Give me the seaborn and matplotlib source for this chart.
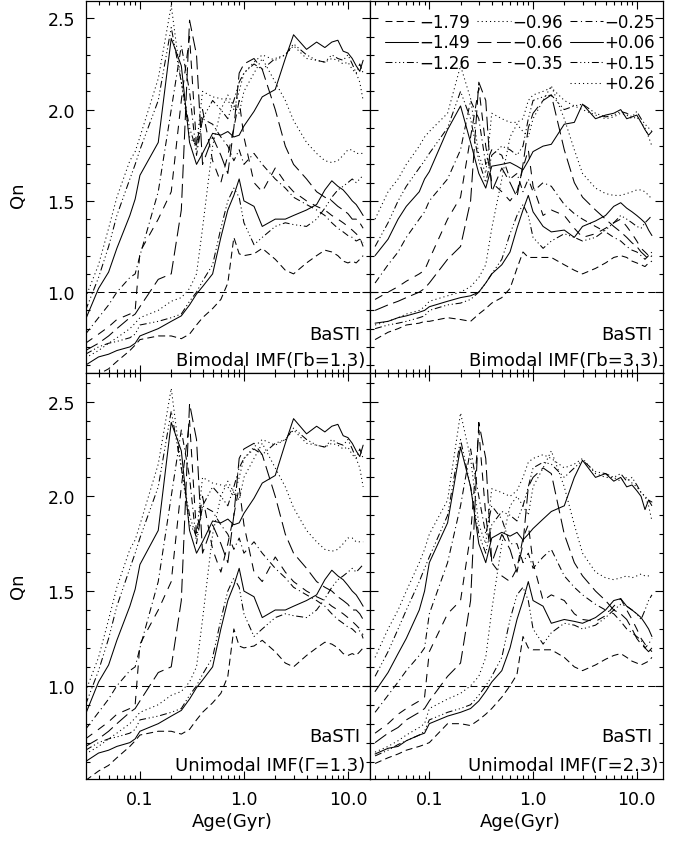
import matplotlib
matplotlib.use("Agg")
import pandas as pd
import matplotlib.pyplot as plt
import seaborn as sns
from matplotlib.lines import Line2D
from matplotlib.ticker import MultipleLocator, LogLocator, FixedLocator, FixedFormatter, NullFormatter

# ── Data ──────────────────────────────────────────────────
ages = [0.03, 0.04, 0.05, 0.06, 0.08, 0.09, 0.1, 0.15, 0.2, 0.25, 0.3, 0.35, 0.4, 0.5,
        0.6, 0.7, 0.8, 0.9, 1.0, 1.25, 1.5, 2.0, 2.5, 3.0, 4.0, 5.0, 6.0, 7.0, 8.0, 9.0,
        10.0, 11.0, 12.0, 13.0, 14.0]

feh_labels = ["−1.79", "−1.49", "−1.26", "−0.96", "−0.66",
              "−0.35", "−0.25", "+0.06", "+0.15", "+0.26"]

# Bimodal IMF (Gamma_b = 1.3) -- the unimodal Gamma = 1.3 panel is the same
bi13_m179 = [0.50, 0.55, 0.58, 0.62, 0.68, 0.71, 0.74, 0.76, 0.76, 0.745, 0.77, 0.82, 0.86, 0.91, 0.96, 1.05, 1.30, 1.21, 1.20, 1.21, 1.24, 1.18, 1.12, 1.10, 1.16, 1.20, 1.23, 1.22, 1.20, 1.17, 1.16, 1.17, 1.16, 1.18, 1.20]
bi13_m149 = [0.60, 0.645, 0.66, 0.68, 0.70, 0.72, 0.76, 0.80, 0.84, 0.87, 0.93, 0.99, 1.03, 1.10, 1.30, 1.45, 1.53, 1.62, 1.50, 1.47, 1.36, 1.40, 1.40, 1.42, 1.45, 1.48, 1.56, 1.61, 1.58, 1.56, 1.53, 1.50, 1.48, 1.45, 1.42]
bi13_m126 = [0.66, 0.70, 0.72, 0.73, 0.75, 0.77, 0.82, 0.84, 0.86, 0.88, 0.95, 1.00, 1.06, 1.15, 1.35, 1.50, 1.57, 1.52, 1.38, 1.26, 1.30, 1.36, 1.38, 1.37, 1.36, 1.40, 1.46, 1.52, 1.56, 1.58, 1.60, 1.62, 1.60, 1.62, 1.64]
bi13_m096 = [0.64, 0.68, 0.72, 0.75, 0.80, 0.83, 0.86, 0.90, 0.95, 0.97, 1.02, 1.10, 1.35, 1.80, 2.00, 2.08, 2.02, 1.98, 2.10, 2.20, 2.28, 2.15, 2.05, 1.94, 1.82, 1.76, 1.72, 1.71, 1.72, 1.75, 1.78, 1.78, 1.76, 1.76, 1.76]
bi13_m066 = [0.68, 0.72, 0.76, 0.80, 0.86, 0.88, 0.92, 1.07, 1.10, 1.45, 2.49, 2.30, 1.70, 1.85, 1.75, 1.65, 1.90, 2.20, 2.25, 2.28, 2.22, 2.00, 1.80, 1.70, 1.62, 1.55, 1.52, 1.50, 1.47, 1.45, 1.43, 1.40, 1.40, 1.38, 1.35]
bi13_m035 = [0.72, 0.77, 0.81, 0.85, 0.88, 0.90, 1.22, 1.40, 1.55, 2.05, 2.40, 1.80, 2.00, 1.72, 1.60, 1.75, 1.90, 2.05, 1.85, 1.60, 1.55, 1.68, 1.60, 1.55, 1.50, 1.47, 1.45, 1.42, 1.40, 1.38, 1.36, 1.34, 1.32, 1.30, 1.25]
bi13_m025 = [0.77, 0.86, 0.93, 1.00, 1.08, 1.10, 1.20, 1.55, 2.00, 2.35, 2.10, 1.75, 1.95, 1.92, 1.85, 1.80, 1.72, 1.78, 1.70, 1.76, 1.70, 1.62, 1.57, 1.52, 1.48, 1.45, 1.42, 1.38, 1.35, 1.33, 1.31, 1.30, 1.28, 1.29, 1.27]
bi13_p006 = [0.85, 1.02, 1.11, 1.24, 1.42, 1.51, 1.64, 1.82, 2.39, 2.24, 1.82, 1.70, 1.76, 1.87, 1.86, 1.88, 1.85, 1.86, 1.91, 1.99, 2.07, 2.11, 2.28, 2.41, 2.33, 2.37, 2.34, 2.37, 2.38, 2.32, 2.31, 2.28, 2.24, 2.21, 2.27]
bi13_p015 = [0.90, 1.08, 1.25, 1.42, 1.62, 1.70, 1.78, 2.05, 2.45, 2.15, 1.90, 1.78, 1.95, 2.05, 2.00, 1.95, 2.05, 2.15, 2.20, 2.25, 2.22, 2.28, 2.30, 2.36, 2.30, 2.27, 2.26, 2.30, 2.28, 2.27, 2.30, 2.25, 2.20, 2.25, 2.20]
bi13_p026 = [0.97, 1.15, 1.35, 1.52, 1.72, 1.77, 1.85, 2.17, 2.57, 2.15, 1.85, 1.80, 2.10, 2.07, 2.06, 2.05, 2.00, 2.10, 2.20, 2.26, 2.30, 2.27, 2.30, 2.35, 2.28, 2.27, 2.26, 2.28, 2.27, 2.25, 2.26, 2.22, 2.20, 2.15, 2.05]

# Bimodal IMF (Gamma_b = 3.3)
bi33_m179 = [0.74, 0.78, 0.80, 0.82, 0.83, 0.84, 0.84, 0.86, 0.85, 0.84, 0.88, 0.91, 0.94, 0.97, 1.02, 1.13, 1.22, 1.19, 1.19, 1.19, 1.19, 1.15, 1.12, 1.10, 1.13, 1.16, 1.19, 1.20, 1.19, 1.17, 1.16, 1.15, 1.14, 1.16, 1.17]
bi33_m149 = [0.83, 0.84, 0.86, 0.87, 0.89, 0.90, 0.92, 0.95, 0.97, 0.98, 1.00, 1.05, 1.10, 1.15, 1.22, 1.35, 1.45, 1.53, 1.44, 1.36, 1.33, 1.34, 1.30, 1.36, 1.39, 1.42, 1.47, 1.49, 1.46, 1.44, 1.42, 1.40, 1.38, 1.34, 1.31]
bi33_m126 = [0.80, 0.82, 0.83, 0.84, 0.86, 0.87, 0.90, 0.93, 0.94, 0.96, 1.00, 1.05, 1.10, 1.18, 1.32, 1.42, 1.48, 1.42, 1.30, 1.24, 1.28, 1.32, 1.30, 1.28, 1.30, 1.34, 1.38, 1.42, 1.40, 1.38, 1.36, 1.35, 1.38, 1.40, 1.42]
bi33_m096 = [0.82, 0.84, 0.86, 0.88, 0.90, 0.92, 0.95, 0.98, 1.00, 1.03, 1.08, 1.15, 1.35, 1.62, 1.85, 1.92, 1.88, 1.85, 1.95, 2.05, 2.13, 1.95, 1.78, 1.65, 1.57, 1.54, 1.53, 1.53, 1.54, 1.55, 1.56, 1.56, 1.55, 1.53, 1.51]
bi33_m066 = [0.90, 0.93, 0.95, 0.97, 1.00, 1.02, 1.05, 1.18, 1.25, 1.50, 2.15, 2.05, 1.55, 1.68, 1.60, 1.52, 1.70, 1.90, 1.98, 2.05, 2.08, 1.78, 1.60, 1.52, 1.45, 1.40, 1.36, 1.33, 1.30, 1.27, 1.25, 1.22, 1.20, 1.18, 1.20]
bi33_m035 = [0.96, 1.00, 1.03, 1.06, 1.10, 1.12, 1.18, 1.40, 1.52, 1.85, 2.12, 1.80, 1.60, 1.55, 1.50, 1.55, 1.68, 1.78, 1.58, 1.42, 1.45, 1.42, 1.35, 1.30, 1.32, 1.35, 1.38, 1.40, 1.36, 1.32, 1.28, 1.24, 1.22, 1.20, 1.18]
bi33_m025 = [1.05, 1.15, 1.22, 1.30, 1.40, 1.44, 1.50, 1.62, 1.78, 2.05, 1.95, 1.70, 1.78, 1.75, 1.62, 1.65, 1.55, 1.62, 1.55, 1.60, 1.58, 1.48, 1.43, 1.40, 1.36, 1.33, 1.30, 1.28, 1.25, 1.23, 1.22, 1.20, 1.18, 1.20, 1.22]
bi33_p006 = [1.20, 1.29, 1.40, 1.47, 1.55, 1.62, 1.66, 1.89, 2.02, 1.82, 1.65, 1.57, 1.69, 1.70, 1.71, 1.69, 1.67, 1.72, 1.77, 1.80, 1.81, 1.92, 1.93, 2.03, 1.95, 1.97, 1.98, 2.00, 1.95, 1.96, 1.97, 1.93, 1.89, 1.86, 1.88]
bi33_p015 = [1.25, 1.38, 1.50, 1.58, 1.68, 1.72, 1.76, 1.90, 2.10, 1.95, 1.72, 1.60, 1.75, 1.80, 1.78, 1.75, 1.80, 1.95, 2.05, 2.07, 2.08, 2.00, 2.02, 2.03, 1.98, 1.96, 1.97, 1.99, 1.98, 1.96, 1.99, 1.95, 1.92, 1.90, 1.88]
bi33_p026 = [1.40, 1.55, 1.62, 1.70, 1.80, 1.85, 1.88, 1.98, 2.24, 2.06, 1.75, 1.65, 1.98, 1.95, 1.93, 1.93, 1.95, 2.05, 2.08, 2.10, 2.12, 2.05, 2.02, 2.00, 1.97, 1.95, 1.96, 1.98, 1.97, 1.95, 1.96, 1.93, 1.90, 1.85, 1.80]

# Unimodal IMF (Gamma = 2.3)
uni23_m179 = [0.59, 0.62, 0.64, 0.66, 0.68, 0.69, 0.70, 0.80, 0.80, 0.79, 0.82, 0.85, 0.88, 0.94, 1.00, 1.06, 1.26, 1.20, 1.19, 1.19, 1.19, 1.15, 1.10, 1.08, 1.11, 1.14, 1.16, 1.17, 1.15, 1.13, 1.12, 1.11, 1.12, 1.13, 1.15]
uni23_m149 = [0.64, 0.67, 0.68, 0.71, 0.74, 0.75, 0.80, 0.84, 0.86, 0.88, 0.92, 0.97, 1.02, 1.08, 1.20, 1.35, 1.45, 1.55, 1.45, 1.42, 1.33, 1.35, 1.34, 1.33, 1.36, 1.40, 1.45, 1.46, 1.42, 1.40, 1.38, 1.36, 1.33, 1.30, 1.26]
uni23_m126 = [0.63, 0.66, 0.69, 0.71, 0.74, 0.76, 0.82, 0.86, 0.88, 0.90, 0.95, 1.00, 1.05, 1.15, 1.35, 1.48, 1.52, 1.45, 1.30, 1.22, 1.28, 1.33, 1.32, 1.30, 1.32, 1.36, 1.40, 1.43, 1.42, 1.40, 1.38, 1.35, 1.40, 1.45, 1.48]
uni23_m096 = [0.65, 0.68, 0.71, 0.74, 0.78, 0.80, 0.88, 0.93, 0.96, 1.00, 1.05, 1.15, 1.40, 1.75, 1.95, 2.00, 1.95, 1.90, 2.05, 2.15, 2.24, 2.05, 1.85, 1.70, 1.60, 1.57, 1.56, 1.57, 1.58, 1.57, 1.58, 1.59, 1.58, 1.58, 1.58]
uni23_m066 = [0.70, 0.75, 0.78, 0.82, 0.86, 0.88, 0.92, 1.05, 1.12, 1.45, 2.39, 2.20, 1.65, 1.80, 1.72, 1.60, 1.75, 2.05, 2.10, 2.15, 2.12, 1.80, 1.65, 1.58, 1.50, 1.45, 1.40, 1.38, 1.35, 1.30, 1.25, 1.22, 1.20, 1.18, 1.20]
uni23_m035 = [0.75, 0.80, 0.85, 0.88, 0.92, 0.94, 1.18, 1.38, 1.45, 1.80, 2.35, 1.90, 1.65, 1.58, 1.55, 1.62, 1.78, 1.85, 1.65, 1.45, 1.48, 1.45, 1.38, 1.35, 1.34, 1.37, 1.42, 1.46, 1.40, 1.35, 1.30, 1.25, 1.22, 1.20, 1.18]
uni23_m025 = [0.86, 0.95, 1.02, 1.08, 1.16, 1.20, 1.38, 1.65, 1.95, 2.25, 2.00, 1.80, 1.95, 1.88, 1.75, 1.75, 1.65, 1.70, 1.62, 1.68, 1.72, 1.58, 1.52, 1.48, 1.43, 1.40, 1.38, 1.34, 1.30, 1.28, 1.26, 1.24, 1.20, 1.22, 1.25]
uni23_p006 = [0.97, 1.07, 1.17, 1.25, 1.40, 1.50, 1.65, 1.86, 2.26, 2.05, 1.75, 1.65, 1.78, 1.81, 1.79, 1.81, 1.77, 1.80, 1.83, 1.88, 1.92, 1.95, 2.10, 2.19, 2.10, 2.12, 2.08, 2.10, 2.05, 2.06, 2.03, 2.00, 1.93, 1.98, 1.97]
uni23_p015 = [1.05, 1.18, 1.30, 1.40, 1.55, 1.62, 1.68, 1.90, 2.30, 2.05, 1.80, 1.70, 1.85, 1.92, 1.90, 1.87, 1.95, 2.05, 2.15, 2.18, 2.17, 2.10, 2.15, 2.19, 2.13, 2.12, 2.10, 2.12, 2.08, 2.10, 2.06, 2.02, 2.00, 1.98, 1.95]
uni23_p026 = [1.15, 1.30, 1.40, 1.50, 1.65, 1.72, 1.80, 1.98, 2.44, 2.20, 1.85, 1.75, 2.04, 2.02, 2.00, 2.03, 2.10, 2.18, 2.20, 2.22, 2.20, 2.15, 2.17, 2.20, 2.12, 2.10, 2.10, 2.08, 2.10, 2.07, 2.05, 2.02, 2.00, 1.95, 1.87]

panel_series = {
    "bi13": [bi13_m179, bi13_m149, bi13_m126, bi13_m096, bi13_m066,
             bi13_m035, bi13_m025, bi13_p006, bi13_p015, bi13_p026],
    "bi33": [bi33_m179, bi33_m149, bi33_m126, bi33_m096, bi33_m066,
             bi33_m035, bi33_m025, bi33_p006, bi33_p015, bi33_p026],
    "uni23": [uni23_m179, uni23_m149, uni23_m126, uni23_m096, uni23_m066,
              uni23_m035, uni23_m025, uni23_p006, uni23_p015, uni23_p026],
}

# IDL-like line styles, in points
dash_map = {
    "−1.79": (5, 3),
    "−1.49": "",
    "−1.26": (5, 2, 0.8, 2, 0.8, 2, 0.8, 2),
    "−0.96": (0.8, 2.2),
    "−0.66": (10, 4),
    "−0.35": (6, 5),
    "−0.25": (5, 2.5, 0.8, 2.5),
    "+0.06": "",
    "+0.15": (5, 2, 0.8, 2, 0.8, 2, 0.8, 2),
    "+0.26": (0.8, 2.2),
}


def long_frame(series):
    rows = []
    for lab, vals in zip(feh_labels, series):
        for a, v in zip(ages, vals):
            rows.append({"age": a, "qn": v, "feh": lab})
    return pd.DataFrame(rows)


# ── Style ─────────────────────────────────────────────────
sns.set_theme(style="ticks")
plt.rcParams.update({
    "font.family": ["DejaVu Sans"],
    "font.size": 12.5,
    "axes.edgecolor": "black",
    "axes.linewidth": 0.9,
    "xtick.color": "black",
    "ytick.color": "black",
    "text.color": "black",
    "lines.scale_dashes": False,
})

W, H = 681, 845
fig = plt.figure(figsize=(W / 100, H / 100), dpi=100)


def px_axes(x0, x1, y0, y1):
    return fig.add_axes([x0 / W, 1 - y1 / H, (x1 - x0) / W, (y1 - y0) / H])


panels = [
    # key, x-range px, y-range px, xlim, ylim, text, show x labels, show y labels
    ("bi13", (86, 370), (2, 374), (0.0303, 16.3), (0.557, 2.595), "Bimodal IMF(Γb=1.3)", False, True),
    ("bi33", (370, 663), (2, 374), (0.0268, 17.9), (0.557, 2.595), "Bimodal IMF(Γb=3.3)", False, False),
    ("bi13", (86, 370), (374, 780), (0.0303, 16.3), (0.508, 2.651), "Unimodal IMF(Γ=1.3)", True, True),
    ("uni23", (370, 663), (374, 780), (0.0268, 17.9), (0.508, 2.651), "Unimodal IMF(Γ=2.3)", True, False),
]

axes = []
for key, (x0, x1), (y0, y1), xlim, ylim, imf_text, xlab, ylab in panels:
    ax = px_axes(x0, x1, y0, y1)
    df = long_frame(panel_series[key])
    sns.lineplot(data=df, x="age", y="qn", style="feh", style_order=feh_labels,
                 dashes=dash_map, color="black", linewidth=0.75, errorbar=None,
                 legend=False, ax=ax)
    ax.axhline(1.0, color="black", linewidth=0.75, dashes=(5, 3))
    ax.set_xscale("log")
    ax.set_xlim(*xlim)
    ax.set_ylim(*ylim)
    ax.set_xlabel("")
    ax.set_ylabel("")

    ax.xaxis.set_major_locator(FixedLocator([0.1, 1.0, 10.0]))
    ax.xaxis.set_major_formatter(FixedFormatter(["0.1", "1.0", "10.0"]))
    ax.xaxis.set_minor_locator(LogLocator(base=10, subs=range(2, 10)))
    ax.xaxis.set_minor_formatter(NullFormatter())
    ax.yaxis.set_major_locator(MultipleLocator(0.5))
    ax.yaxis.set_minor_locator(MultipleLocator(0.1))
    ax.yaxis.set_major_formatter(plt.FuncFormatter(lambda v, p: f"{v:.1f}"))

    ax.tick_params(which="both", direction="in", top=True, right=True,
                   width=0.8, labelsize=12.5, pad=8)
    ax.tick_params(which="major", length=5.5)
    ax.tick_params(which="minor", length=2.8)
    if not xlab:
        ax.tick_params(axis="x", labelbottom=False)
    if not ylab:
        ax.tick_params(axis="y", labelleft=False)

    ax.text(0.965, 0.105, "BaSTI", transform=ax.transAxes,
            ha="right", va="center", fontsize=13)
    ax.text(0.985, 0.035, imf_text, transform=ax.transAxes,
            ha="right", va="center", fontsize=13)
    for s in ax.spines.values():
        s.set_color("black")
    axes.append(ax)

# ── Legend in top-right panel ─────────────────────────────
blank = Line2D([], [], alpha=0)
handles, labels = [], []
order = [[0, 1, 2, None], [3, 4, 5, None], [6, 7, 8, 9]]
for col in order:
    for i in col:
        if i is None:
            handles.append(blank)
            labels.append(" ")
        else:
            lab = feh_labels[i]
            d = dash_map[lab]
            if d == "":
                h = Line2D([], [], color="black", linewidth=0.75)
            else:
                h = Line2D([], [], color="black", linewidth=0.75, dashes=d)
            handles.append(h)
            labels.append(lab)

axes[1].legend(handles, labels, ncol=3, loc="upper left",
               bbox_to_anchor=(0.05, 0.968), frameon=False, fontsize=12,
               handlelength=2.0, handletextpad=0.1, columnspacing=0.4,
               labelspacing=0.15, borderpad=0, borderaxespad=0)

# ── Axis titles ───────────────────────────────────────────
fig.text(18 / W, 1 - 195 / H, "Qn", rotation=90, ha="center", va="center", fontsize=13)
fig.text(18 / W, 1 - 586 / H, "Qn", rotation=90, ha="center", va="center", fontsize=13)
fig.text(232 / W, 1 - 822 / H, "Age(Gyr)", ha="center", va="center", fontsize=13)
fig.text(520 / W, 1 - 822 / H, "Age(Gyr)", ha="center", va="center", fontsize=13)

fig.savefig("out.png", dpi=100, facecolor="white")
